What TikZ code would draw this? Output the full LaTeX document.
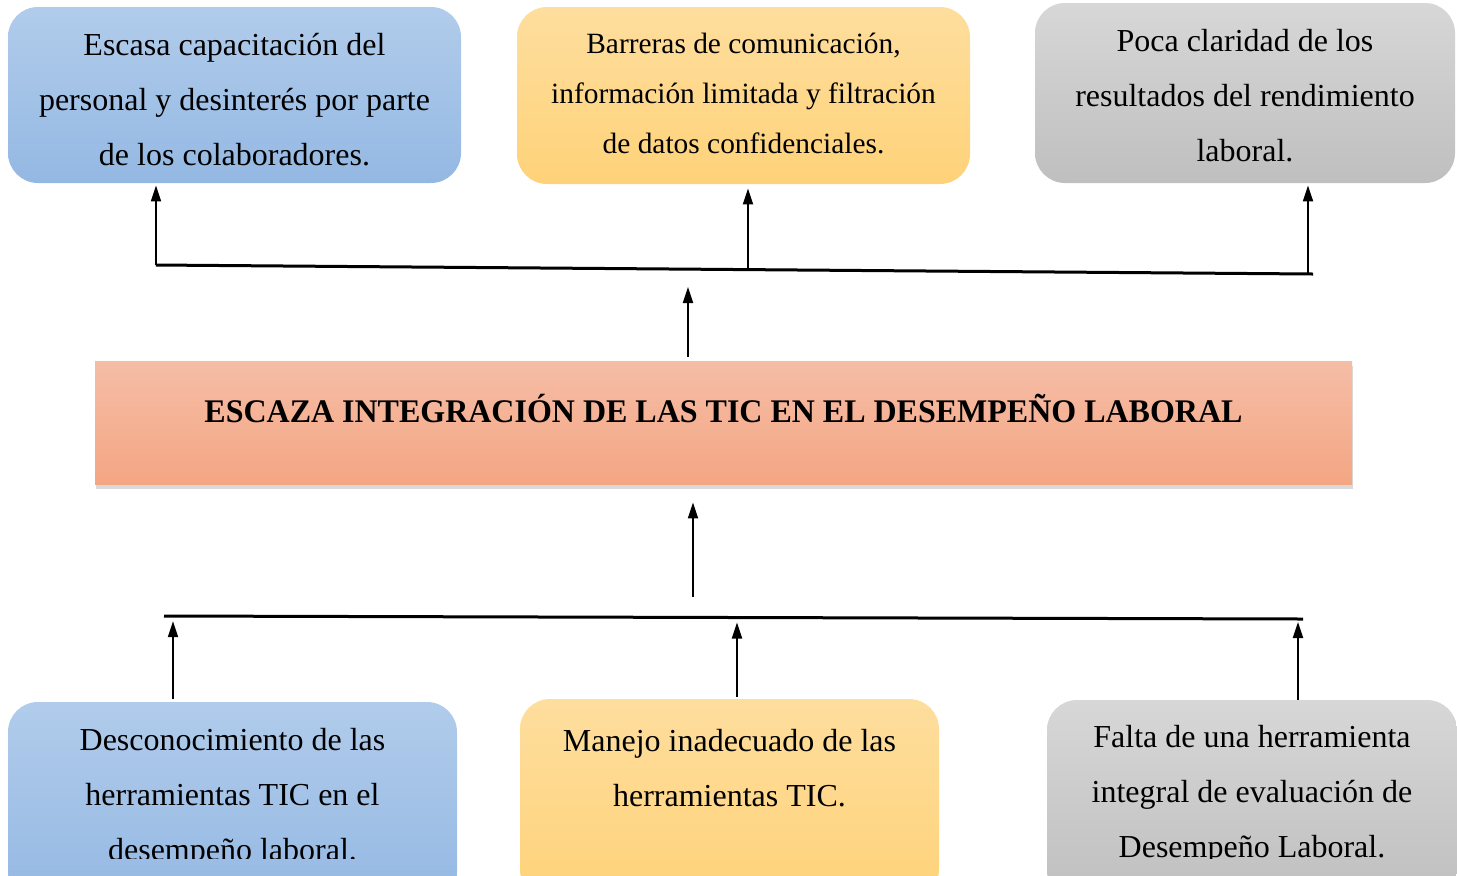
\documentclass[tikz,border=0pt]{standalone}
\usepackage{fontspec}
\setmainfont{Liberation Serif}
\usepackage{graphicx}
\usetikzlibrary{arrows.meta,shadows}
\definecolor{blueTop}{HTML}{B1CCEB}
\definecolor{blueBot}{HTML}{94B8E3}
\definecolor{orangeTop}{HTML}{FEDE9E}
\definecolor{orangeBot}{HTML}{FED279}
\definecolor{grayTop}{HTML}{D7D7D7}
\definecolor{grayBot}{HTML}{BFBFBF}
\definecolor{salmonTop}{HTML}{F5BDA6}
\definecolor{salmonBot}{HTML}{F4A683}

\begin{document}
\begin{tikzpicture}[x=0.5pt, y=-0.5pt,
		arrow/.style={-{Triangle[length=8pt,width=5pt]}, line width=1pt},
		barLine/.style={line width=1.5pt},
		box/.style={rounded corners=15pt, inner sep=0pt, align=center, font=\fontsize{16pt}{27.5pt}\selectfont},
		boxText/.style={inner sep=0pt, align=center, font=\fontsize{16pt}{27.5pt}\selectfont},
		blueBox/.style={box, top color=blueTop, bottom color=blueBot},
		orangeBox/.style={box, top color=orangeTop, bottom color=orangeBot},
		grayBox/.style={box, top color=grayTop, bottom color=grayBot},
		problem/.style={inner sep=0pt, top color=salmonTop, bottom color=salmonBot,
			drop shadow={shadow xshift=0.5pt, shadow yshift=-2.5pt, opacity=0.25, fill=black!60},
			font=\fontsize{16.5pt}{20pt}\selectfont\bfseries, text height=11pt, text depth=11pt}]
	
	\useasboundingbox (0,0) rectangle (1457,875);
	
	% effects
	\node [blueBox, minimum width=226.5pt, minimum height=88pt] (c1) at (234.5,95) {};
	\node [orangeBox, minimum width=226.5pt, minimum height=88.5pt] (c2) at (743.5,95.5) {};
	\node [grayBox, minimum width=210pt, minimum height=90pt] (c3) at (1245,93) {};
	\node [boxText] (c1t) at (234.5,100) {Escasa capacitación del\\personal y desinterés por parte\\de los colaboradores.};
	\node [boxText, font=\fontsize{14.7pt}{25pt}\selectfont] (c2t) at (743.5,93) {Barreras de comunicación,\\información limitada y filtración\\de datos confidenciales.};
	\node [boxText] (c3t) at (1245,96) {Poca claridad de los\\resultados del rendimiento\\laboral.};
	
	% problem
	\node [problem, minimum width=628.5pt, minimum height=61.5pt] (prob) at (723.5,422.5) {\resizebox{519pt}{\height}{ESCAZA INTEGRACIÓN DE LAS TIC EN EL DESEMPEÑO LABORAL}};
	
	% causes
	\node [blueBox, minimum width=224.5pt, minimum height=100pt] (e1) at (232.5,802) {};
	\node [orangeBox, minimum width=209.5pt, minimum height=100pt] (e2) at (729.5,799) {};
	\node [grayBox, minimum width=205pt, minimum height=100pt] (e3) at (1252,800) {};
	\begin{scope}
		\clip (0,0) rectangle (1457,858);
		\node [boxText] (e1t) at (232.5,798) {Desconocimiento de las\\herramientas TIC en el\\desempeño laboral.};
		\node [boxText] (e2t) at (729.5,768) {Manejo inadecuado de las\\herramientas TIC.};
		\node [boxText] (e3t) at (1252,795) {Falta de una herramienta\\integral de evaluación de\\Desempeño Laboral.};
	\end{scope}
	
	% upper bar
	\coordinate (tb1) at (156,265);
	\coordinate (tb2) at (748,269.6);
	\coordinate (tb3) at (1308,273.9);
	\coordinate (tbEnd) at (1313,274);
	\draw [barLine] (tb1) -- (tbEnd);
	\draw [arrow, shorten >=1pt] (tb1) -- (tb1 |- c1.south);
	\draw [arrow, shorten >=2pt] (tb2) -- (tb2 |- c2.south);
	\draw [arrow, shorten >=1pt] (tb3) -- (tb3 |- c3.south);
	\coordinate (upTop) at (688,287);
	\draw [arrow, shorten <=2pt] (prob.north -| upTop) -- (upTop);
	
	% lower bar
	\coordinate (bb1) at (164,616);
	\coordinate (bbEnd) at (1303,619);
	\draw [barLine] (bb1) -- (bbEnd);
	\coordinate (bl1) at (173,616.2);
	\coordinate (bl2) at (737,617.5);
	\coordinate (bl3) at (1298,619);
	\draw [arrow, shorten <=1.5pt, shorten >=2.5pt] (e1.north -| bl1) -- (bl1);
	\draw [arrow, shorten <=1pt, shorten >=2.5pt] (e2.north -| bl2) -- (bl2);
	\draw [arrow, shorten <=0pt, shorten >=1.5pt] (e3.north -| bl3) -- (bl3);
	\coordinate (downTop) at (693,597);
	\draw [arrow, shorten >=9pt] (downTop) -- (downTop |- prob.south);
\end{tikzpicture}
\end{document}
